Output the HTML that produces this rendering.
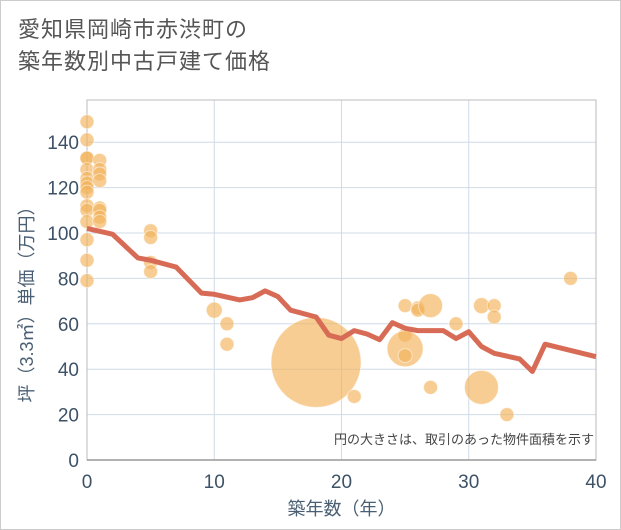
<!DOCTYPE html>
<html><head><meta charset="utf-8"><style>
body{margin:0;background:#fff;font-family:"Liberation Sans","Noto Sans CJK JP",sans-serif}
.wrap{position:relative;width:619px;height:528px;border:1px solid #ccc;overflow:hidden}
.title{position:absolute;left:17px;top:13px;font-size:22px;line-height:32px;color:#555;letter-spacing:1px}
</style></head><body>
<div class="wrap">
<div class="title">愛知県岡崎市赤渋町の<br>築年数別中古戸建て価格</div>
<svg id="c" width="621" height="530" style="position:absolute;left:-1px;top:-1px"></svg>
</div>
<script>
const xTicks=[0,10,20,30,40];
const yTicks=[0,20,40,60,80,100,120,140];
const lineX=[0,2,4,5,7,9,10,12,13,14,15,16,18,19,20,21,22,23,24,25,26,28,29,30,31,32,34,35,36,40];
const lineY=[102,99.5,89,88,85,73.5,73,70.5,71.5,74.5,72,66,63,55,53.5,57,55.5,53,60.5,58,57,57,53.5,56.5,50,47,44.5,39,51,45.5];
const bubX=[0,0,0,0,0,0,0,0,0,0,0,0,0,0,0,1,1,1,1,1,1,1,1,5,5,5,5,10,11,11,18,21,25,25,25,25,26,26,27,27,29,31,31,32,32,33,38];
const bubY=[149,141,133,133,128,124,122,120,118,112,110,105,97,88,79,132,128,126,123,111,110,107,105,101,98,87,83,66,60,51,43,28,68,55,49,46,67,66,68,32,60,68,32,68,63,20,80];
const bubR=[7,7,7,7,7,7,7,7,7,7,7,7,7,7,7,7,7,7,7,7,7,7,7,7,7,7,7,8,7,7,45,7,7,7,18,7,7,7,12,7,7,8,17,7,7,7,7];
const X0=87,X1=596,Y0=460,YS=2.27;
const sx=v=>X0+(X1-X0)*v/40, sy=v=>Y0-v*YS;
const svg=document.getElementById('c'),NS='http://www.w3.org/2000/svg';
function mk(t,a,p){const e=document.createElementNS(NS,t);for(const k in a)e.setAttribute(k,a[k]);(p||svg).appendChild(e);return e;}
const grid=mk('g',{});


yTicks.forEach(v=>{if(v>0)mk('line',{x1:X0,x2:X1,y1:sy(v),y2:sy(v),stroke:'#cfdbe6','stroke-width':1},grid);
const t=mk('text',{x:X0-8,y:sy(v)+7,'text-anchor':'end','font-size':19,fill:'#3d5266'});t.textContent=v;

});
xTicks.forEach(v=>{if(v>0)mk('line',{x1:sx(v),x2:sx(v),y1:100,y2:Y0,stroke:'#cfdbe6','stroke-width':1},grid);
const t=mk('text',{x:sx(v),y:488,'text-anchor':'middle','font-size':19,fill:'#3d5266'});t.textContent=v;

});
mk('rect',{x:X0,y:100,width:X1-X0,height:Y0-100,fill:'none',stroke:'#bbb','stroke-width':1});
mk('line',{x1:X0,x2:X1,y1:Y0,y2:Y0,stroke:'#999','stroke-width':1.5});
bubX.forEach((x,i)=>{const c=mk('circle',{cx:sx(x),cy:sy(bubY[i]),r:bubR[i],fill:'#f2b25a','fill-opacity':0.65,stroke:'#fff','stroke-opacity':0.5,'stroke-width':1});

});
const p=mk('polyline',{points:lineX.map((x,i)=>sx(x)+','+sy(lineY[i])).join(' '),fill:'none',stroke:'#d86b55','stroke-width':5,'stroke-linejoin':'round'});


const n=mk('text',{x:594,y:444,'text-anchor':'end','font-size':13,fill:'#444'});n.textContent='円の大きさは、取引のあった物件面積を示す';


const xt=mk('text',{x:sx(20),y:515,'text-anchor':'middle','font-size':18,fill:'#4a5f73'});xt.textContent='築年数（年）';


const yt=mk('text',{x:0,y:0,'text-anchor':'middle','font-size':18,fill:'#4a5f73',transform:'translate(33,300) rotate(-90)'});yt.textContent='坪（3.3㎡）単価（万円）';


</script>
</body></html>
